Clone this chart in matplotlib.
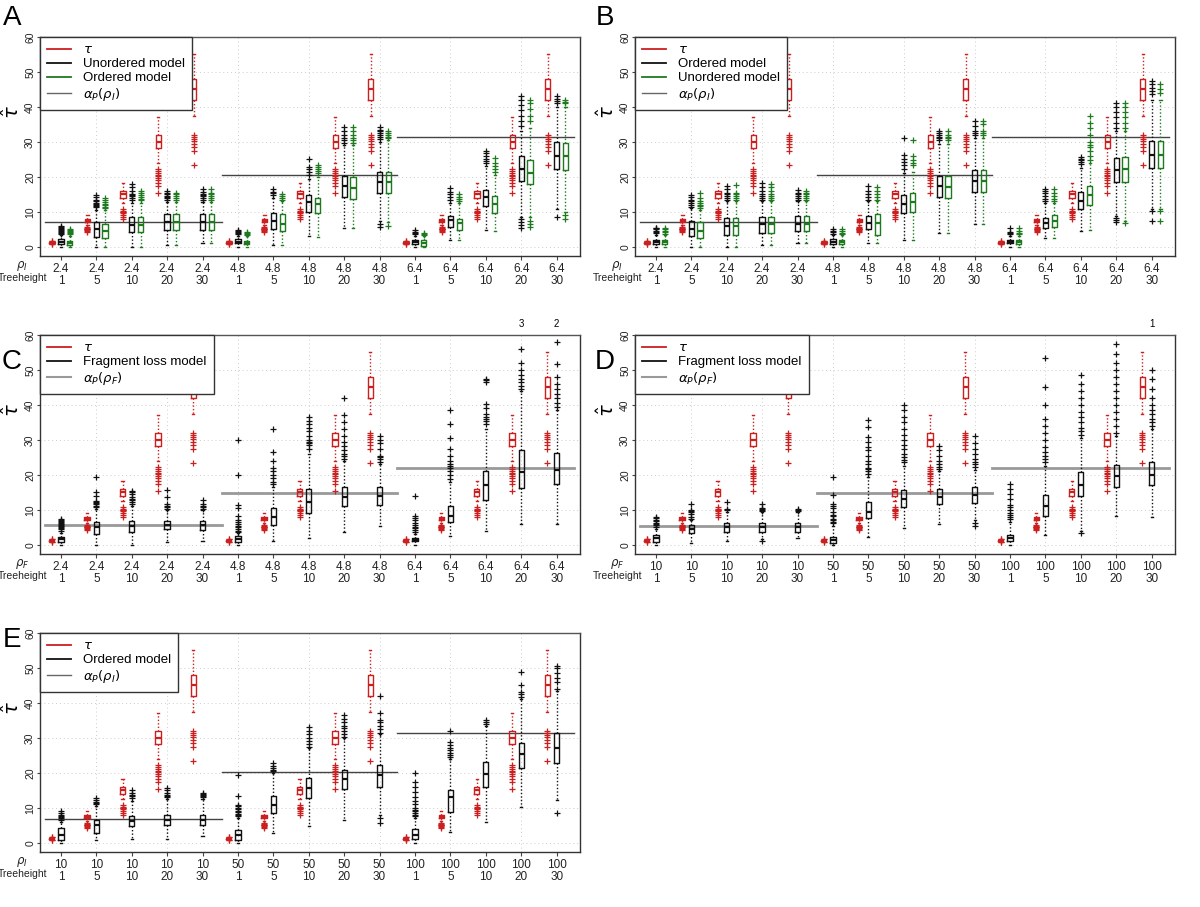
import matplotlib
matplotlib.use("Agg")
import matplotlib.pyplot as plt
from matplotlib.lines import Line2D

plt.rcParams['font.family'] = ['Liberation Sans', 'DejaVu Sans']

# ---------------- data ----------------
treeheights = [1, 5, 10, 20, 30]
rho_I_AB = ["2.4", "4.8", "6.4"]
rho_F_C = ["2.4", "4.8", "6.4"]
rho_F_D = ["10", "50", "100"]
rho_I_E = ["10", "50", "100"]

# tau (true) distribution per treeheight: (whislo, q1, med, q3, whishi)
tau_box = [(0.8, 1.0, 1.2, 1.4, 1.6), (6.3, 7.0, 7.5, 8.0, 9.2), (12.5, 14.0, 15.0, 16.0, 18.3),
           (24.0, 28.2, 30.0, 32.0, 37.0), (37.5, 42.0, 45.0, 48.0, 55.0)]
tau_out = [[0.7, 0.8, 1.6, 1.7],
           [4.3, 4.6, 4.8, 5.0, 5.1, 5.2, 5.4, 5.7],
           [8.0, 8.6, 9.2, 9.6, 9.9, 10.1, 10.4, 10.7],
           [15.5, 17.3, 18.3, 19.0, 19.6, 20.2, 20.6, 21.1, 21.6, 22.3],
           [23.5, 27.5, 28.5, 29.5, 30.2, 30.8, 31.4, 32.0]]

# Panel A: Unordered (black), Ordered (green)
A_unord_box = [(0, 0.8, 1.3, 2.2, 3.4), (0, 2.8, 5.0, 7.0, 10.5), (0, 4.3, 6.3, 8.6, 12.5),
               (0.5, 4.8, 7.0, 9.3, 12.8), (1.0, 4.8, 7.0, 9.3, 12.8),
               (0, 1.0, 1.5, 2.2, 3.2), (0.5, 5.0, 7.5, 9.8, 14.0), (3.0, 10.0, 12.7, 14.8, 19.5),
               (5.5, 14.2, 17.3, 20.4, 29.0), (7.5, 15.3, 18.5, 21.4, 30.0),
               (0, 0.7, 1.3, 2.1, 3.0), (2.1, 5.8, 7.6, 8.9, 12.5), (4.8, 11.6, 14.2, 16.4, 23.0),
               (8.5, 18.7, 22.4, 26.0, 33.0), (10.8, 22.4, 26.0, 30.0, 40.0)]
A_unord_out = [[3.8, 4.1, 4.4, 4.6, 4.8, 5.0, 5.3, 5.6, 6.0],
               [11.5, 11.8, 12.0, 12.3, 12.6, 13.0, 13.5, 14.2, 14.8],
               [13.5, 14.0, 14.5, 14.8, 15.2, 16.0, 17.0, 18.0],
               [13.5, 14.0, 14.3, 14.6, 15.0, 15.5, 16.0],
               [13.5, 14.0, 14.5, 14.8, 15.2, 15.8, 16.5],
               [3.6, 3.9, 4.2, 4.5, 4.8],
               [14.8, 15.3, 15.8, 16.5],
               [20.5, 21.5, 22.3, 22.8, 25.0],
               [29.8, 30.5, 31.0, 32.0, 33.0, 34.2],
               [5.8, 6.5, 30.8, 31.5, 32.0, 32.5, 33.0, 33.5, 34.2],
               [3.6, 4.0, 4.4, 4.8],
               [13.5, 14.2, 15.0, 15.8, 16.8],
               [24.0, 24.6, 25.2, 26.0, 26.8, 27.3],
               [5.5, 6.3, 7.2, 7.9, 34.5, 36.0, 37.5, 39.0, 40.5, 42.0, 43.0],
               [8.5, 41.0, 41.7, 42.3, 43.0]]
A_ord_box = [(0, 0.6, 1.1, 1.8, 3.2), (0, 2.6, 4.5, 6.5, 10.5), (0, 4.3, 6.3, 8.6, 12.5),
             (0.5, 4.8, 7.0, 9.3, 12.8), (1.0, 4.8, 7.0, 9.3, 12.8),
             (0, 0.7, 1.2, 1.8, 3.0), (0.5, 4.5, 6.5, 9.5, 13.0), (2.9, 9.6, 12.2, 13.9, 20.0),
             (5.5, 13.7, 16.9, 20.0, 29.0), (7.0, 15.3, 18.5, 21.4, 30.5),
             (0, 0.4, 1.0, 2.1, 3.0), (1.9, 4.8, 6.8, 7.9, 12.5), (4.5, 9.8, 12.2, 14.5, 20.5),
             (8.5, 18.0, 21.2, 24.8, 34.0), (10.0, 21.9, 26.0, 29.6, 40.0)]
A_ord_out = [[3.6, 3.9, 4.2, 4.5, 4.8, 5.2],
             [11.0, 11.5, 11.9, 12.3, 12.8, 13.5, 14.0],
             [13.3, 13.8, 14.3, 14.8, 15.3, 16.0],
             [13.5, 14.0, 14.5, 15.0, 15.5],
             [13.5, 14.0, 14.5, 15.0, 15.5, 16.5],
             [3.4, 3.7, 4.0, 4.3],
             [13.5, 14.0, 14.5, 15.0],
             [21.0, 21.6, 22.2, 22.8, 23.3],
             [29.6, 30.5, 31.2, 32.0, 33.0, 34.4],
             [6.0, 31.0, 31.5, 32.0, 32.6, 33.2],
             [3.3, 3.6, 4.0],
             [13.2, 13.8, 14.3, 15.1],
             [21.4, 22.2, 23.0, 24.0, 25.3],
             [5.8, 6.5, 7.3, 36.0, 37.5, 39.5, 41.0, 42.0],
             [8.0, 9.0, 41.0, 41.5, 42.0]]

# Panel B: Ordered (black), Unordered (green)
B_ord_box = [(0, 0.7, 1.4, 2.1, 3.5), (0, 3.0, 5.0, 7.5, 11.0), (0, 3.5, 6.0, 8.3, 13.0),
             (0.5, 4.0, 6.5, 8.5, 13.0), (1.0, 4.5, 6.5, 8.8, 13.0),
             (0, 0.8, 1.4, 2.2, 3.5), (1.0, 5.0, 6.9, 8.9, 13.0), (1.9, 9.6, 12.4, 14.8, 21.0),
             (4.0, 14.2, 17.3, 20.4, 29.5), (6.5, 15.6, 18.7, 21.9, 31.0),
             (0, 1.0, 1.5, 2.1, 3.0), (2.6, 5.5, 6.9, 8.4, 12.5), (4.5, 10.8, 13.2, 15.8, 22.5),
             (8.9, 18.5, 21.9, 25.5, 33.0), (10.8, 22.6, 26.2, 30.3, 42.0)]
B_ord_out = [[4.0, 4.3, 4.6, 5.0, 5.3, 5.5],
             [11.5, 12.0, 12.5, 13.0, 13.5, 14.2, 14.8],
             [13.5, 14.0, 14.5, 15.0, 15.5, 16.5, 17.5],
             [13.5, 14.0, 14.5, 15.0, 16.0, 17.0, 18.3],
             [13.5, 14.0, 14.5, 15.0, 15.5, 16.2],
             [3.8, 4.2, 4.6, 5.0],
             [13.5, 14.2, 15.0, 16.0, 17.5],
             [22.4, 23.3, 24.3, 25.2, 26.2, 31.0],
             [30.5, 31.0, 31.5, 32.0, 32.5, 33.0],
             [32.0, 32.5, 33.0, 34.5, 36.0],
             [3.6, 4.0, 4.4, 5.3],
             [13.2, 13.8, 14.5, 15.3, 16.0, 16.6],
             [23.8, 24.3, 24.8, 25.2, 25.7],
             [7.0, 7.8, 8.4, 34.0, 35.5, 37.0, 38.5, 40.0, 41.0],
             [7.4, 10.3, 43.6, 44.5, 45.5, 46.5, 47.4]]
B_unord_box = [(0, 0.7, 1.3, 2.0, 3.3), (0, 2.5, 4.5, 7.0, 10.5), (0, 3.5, 6.0, 8.3, 13.0),
               (0.5, 4.0, 6.5, 8.5, 13.0), (1.0, 4.5, 6.5, 8.8, 13.0),
               (0, 0.7, 1.3, 2.0, 3.3), (1.0, 3.5, 6.9, 9.4, 13.0), (1.9, 10.0, 12.7, 15.4, 21.5),
               (4.0, 14.0, 17.2, 20.4, 29.5), (6.5, 15.6, 18.7, 21.9, 31.0),
               (0, 0.9, 1.4, 2.0, 3.0), (2.5, 5.8, 7.4, 9.0, 12.5), (4.8, 12.0, 14.7, 17.5, 24.0),
               (7.5, 18.5, 22.2, 25.7, 33.0), (10.8, 22.6, 26.2, 30.3, 42.0)]
B_unord_out = [[3.8, 4.2, 4.6, 5.0, 5.4],
               [11.0, 11.6, 12.0, 12.5, 13.2, 14.0, 15.3],
               [13.5, 14.0, 14.5, 15.0, 15.5, 17.8],
               [13.5, 14.0, 14.5, 15.0, 16.0, 17.0, 18.0],
               [13.5, 14.0, 14.5, 15.0, 15.5, 16.0],
               [3.6, 4.0, 4.5, 5.2],
               [13.5, 14.3, 15.0, 16.0, 17.0],
               [23.3, 24.0, 24.8, 26.0, 30.6],
               [30.5, 31.0, 31.5, 32.0, 33.0],
               [32.0, 32.5, 33.0, 35.0, 36.0],
               [3.6, 4.0, 4.5, 5.3],
               [13.2, 13.8, 14.5, 15.3, 16.6],
               [24.8, 26.0, 27.5, 28.5, 29.0, 30.0, 32.0, 34.0, 35.5, 37.3],
               [6.8, 34.0, 35.5, 37.0, 38.5, 40.0, 41.0],
               [7.4, 10.3, 44.0, 45.0, 46.5]]

# Panel C: Fragment loss model (rho_F = 2.4, 4.8, 6.4)
C_frag_box = [(0, 0.8, 1.7, 2.2, 3.5), (0, 3.1, 5.0, 6.5, 10.2), (0, 3.6, 5.5, 6.9, 11.0),
              (0.8, 4.6, 5.7, 6.9, 10.0), (1.2, 4.4, 5.7, 6.9, 10.0),
              (0, 0.9, 1.7, 2.5, 3.3), (1.2, 5.7, 7.9, 10.5, 16.5), (1.9, 9.1, 12.4, 16.0, 26.0),
              (3.8, 11.0, 13.8, 16.5, 24.0), (5.5, 11.5, 14.1, 16.5, 23.0),
              (0, 1.0, 1.4, 1.9, 3.0), (2.5, 6.5, 8.4, 11.2, 18.0), (4.1, 12.7, 17.0, 21.2, 33.0),
              (6.0, 16.2, 20.8, 27.2, 44.0), (6.0, 17.4, 21.5, 26.2, 38.5)]
C_frag_out = [[4.0, 4.5, 4.8, 5.0, 5.3, 5.6, 5.9, 6.2, 6.5, 6.8, 7.2, 7.5],
              [10.7, 11.2, 11.6, 12.0, 12.3, 12.6, 14.0, 15.2, 19.4],
              [11.7, 12.3, 12.8, 13.2, 13.7, 14.5, 15.0, 15.5],
              [10.4, 10.8, 11.2, 11.6, 13.6, 15.7],
              [10.4, 10.8, 11.2, 11.8, 12.8],
              [3.6, 4.0, 4.5, 5.0, 5.5, 6.0, 6.5, 7.2, 8.4, 10.5, 11.5, 20.0, 30.0],
              [17.4, 18.0, 19.0, 20.0, 21.0, 22.0, 24.0, 26.5, 33.0],
              [27.5, 28.5, 29.0, 29.3, 30.0, 31.0, 32.5, 33.5, 34.5, 35.5, 36.5],
              [24.6, 25.3, 26.0, 27.0, 28.4, 29.5, 31.0, 33.0, 35.0, 37.0, 42.0],
              [23.6, 24.5, 25.0, 25.5, 27.5, 29.0, 30.0, 31.0],
              [3.6, 4.2, 4.8, 5.2, 5.6, 6.3, 7.0, 7.6, 8.4, 14.1],
              [18.9, 20.0, 21.0, 22.0, 22.5, 23.0, 24.0, 25.5, 27.5, 30.7, 34.6, 38.6],
              [34.6, 35.5, 36.0, 36.5, 37.5, 39.0, 40.3, 46.5, 47.0, 47.4],
              [44.6, 45.5, 46.5, 47.5, 48.5, 50.0, 52.0, 56.0],
              [39.3, 40.5, 42.0, 43.0, 44.5, 46.0, 48.0, 51.7, 57.9]]
C_offscale = {14: "3", 15: "2"}

# Panel D: Fragment loss model (rho_F = 10, 50, 100)
D_frag_box = [(0, 0.9, 1.9, 2.8, 4.5), (0.5, 3.3, 4.5, 5.7, 7.0), (1.0, 3.8, 5.2, 6.2, 9.5),
              (1.8, 3.8, 5.2, 6.2, 9.5), (1.9, 3.8, 5.2, 6.4, 9.5),
              (0, 0.5, 1.4, 2.4, 5.5), (2.4, 7.6, 9.5, 12.3, 19.5), (4.8, 10.8, 13.1, 15.7, 22.5),
              (6.0, 11.7, 13.6, 16.0, 21.0), (7.0, 12.0, 14.3, 16.5, 21.5),
              (0, 1.2, 2.0, 2.7, 6.5), (2.7, 8.2, 11.0, 14.3, 22.5), (4.1, 14.1, 17.1, 20.8, 30.5),
              (8.4, 16.5, 19.6, 22.7, 31.0), (7.9, 17.1, 20.0, 23.6, 33.0)]
D_frag_out = [[5.2, 5.6, 6.0, 6.4, 6.8, 7.2, 7.6, 8.0],
              [7.5, 8.0, 8.8, 9.4, 9.8, 10.0, 11.8],
              [10.0, 10.2, 12.3],
              [1.2, 9.8, 10.0, 10.3, 10.6, 11.8],
              [9.8, 10.0, 10.3],
              [6.2, 6.6, 7.0, 7.5, 8.2, 8.6, 9.5, 10.5, 11.2, 11.8, 14.2, 19.4],
              [20.4, 21.0, 21.6, 22.0, 23.0, 24.0, 25.5, 27.0, 28.0, 29.5, 30.8, 33.6, 35.7],
              [23.6, 24.3, 25.0, 26.0, 27.4, 28.5, 30.0, 31.5, 33.1, 35.0, 36.5, 38.5, 40.0],
              [21.7, 22.3, 23.0, 24.0, 25.5, 27.0, 28.4],
              [5.5, 6.2, 22.2, 23.0, 23.8, 24.5, 26.0, 27.5, 29.0, 31.2],
              [7.4, 8.0, 8.6, 9.2, 10.0, 10.8, 11.5, 13.0, 14.5, 16.0, 17.4],
              [23.6, 24.5, 25.5, 26.5, 28.0, 30.0, 32.0, 34.0, 36.0, 40.0, 45.0, 53.5],
              [3.5, 31.5, 32.5, 33.5, 35.0, 36.5, 38.0, 40.0, 42.0, 44.0, 46.0, 48.5],
              [32.0, 34.0, 36.0, 38.0, 40.0, 42.0, 44.0, 46.0, 48.0, 50.0, 52.0, 54.5, 57.5],
              [34.0, 35.0, 36.0, 37.5, 38.5, 40.0, 42.0, 44.5, 47.5, 50.0]]
D_offscale = {15: "1"}

# Panel E: Ordered model (rho_I = 10, 50, 100)
E_ord_box = [(0, 0.9, 2.4, 4.3, 6.0), (0.9, 2.8, 5.2, 6.6, 10.5), (1.1, 4.7, 6.2, 7.6, 12.0),
             (1.1, 5.2, 6.6, 8.1, 12.5), (1.9, 5.2, 6.6, 8.1, 12.5),
             (0, 0.9, 2.4, 3.6, 7.0), (2.8, 8.5, 10.9, 13.3, 20.0), (4.9, 12.8, 15.8, 18.5, 27.0),
             (6.6, 15.4, 18.4, 20.9, 30.0), (8.1, 16.1, 19.4, 22.3, 31.0),
             (0, 1.1, 2.4, 4.0, 7.0), (3.0, 8.7, 13.0, 15.2, 24.0), (5.9, 16.1, 19.7, 23.2, 33.5),
             (10.4, 21.3, 25.3, 28.6, 41.0), (12.3, 22.9, 27.1, 31.3, 43.5)]
E_ord_out = [[6.6, 7.0, 7.3, 7.6, 8.0, 8.5, 9.0],
             [11.0, 11.4, 11.8, 12.2, 12.8],
             [12.8, 13.3, 13.8, 14.4, 15.2],
             [13.0, 13.3, 13.8, 14.4, 15.0, 15.6],
             [13.0, 13.3, 13.6, 14.0, 14.4],
             [7.6, 8.0, 8.4, 8.8, 9.2, 9.6, 10.0, 10.5, 10.9, 13.3, 19.4],
             [20.5, 20.9, 21.5, 22.0, 22.7],
             [27.5, 28.2, 29.0, 30.0, 31.0, 32.0, 33.2],
             [30.3, 31.0, 32.0, 32.8, 33.5, 34.5, 35.5, 36.5],
             [5.7, 7.0, 31.3, 32.5, 33.5, 34.5, 35.0, 37.0, 41.9],
             [7.6, 8.0, 8.5, 9.0, 9.5, 10.0, 11.0, 12.0, 13.0, 14.5, 16.0, 17.5, 19.9],
             [24.6, 25.2, 25.8, 26.5, 27.2, 28.0, 28.9, 31.9],
             [34.1, 34.6, 35.1],
             [41.7, 42.5, 43.0, 45.0, 48.8],
             [8.5, 44.1, 46.0, 47.0, 48.5, 50.0, 50.7]]

# alpha_P reference levels per rho group
A_alpha = [7.0, 20.5, 31.5]
B_alpha = [7.0, 20.5, 31.5]
C_alpha = [5.7, 14.9, 22.0]
D_alpha = [5.5, 14.9, 22.1]
E_alpha = [6.8, 20.4, 31.5]

RED = "#cc1f1f"
GREEN = "#1e7a1e"
BLACK = "#111111"


def stats_list(boxes, outs):
    res = []
    for (lo, q1, med, q3, hi), fl in zip(boxes, outs):
        res.append(dict(whislo=lo, q1=q1, med=med, q3=q3, whishi=hi, fliers=fl))
    return res


def draw_boxes(ax, boxes, outs, offset, color, width=0.15):
    stats = stats_list(boxes, outs)
    pos = [i + 1 + offset for i in range(len(stats))]
    ax.bxp(stats, positions=pos, widths=width, manage_ticks=False, showfliers=True,
           boxprops=dict(color=color, linewidth=1.0),
           medianprops=dict(color=color, linewidth=1.6),
           whiskerprops=dict(color=color, linewidth=1.0, linestyle=(0, (1, 1.5))),
           capprops=dict(color=color, linewidth=1.0),
           flierprops=dict(marker='+', markeredgecolor=color, markersize=4.5,
                           markeredgewidth=0.9, linestyle='none'),
           capwidths=0.06)


def draw_tau(ax, offset):
    boxes = tau_box * 3
    outs = tau_out * 3
    draw_boxes(ax, boxes, outs, offset, RED)


W, H = 1200, 907


def make_axes(fig, left, top, right, bottom):
    return fig.add_axes([left / W, 1 - bottom / H, (right - left) / W, (bottom - top) / H])


def style_axes(ax, rhos, rho_label, alpha, alpha_color, alpha_lw, left_px, bottom_px):
    ax.set_xlim(0.41, 15.66)
    ax.set_ylim(-2.6, 60)
    ax.set_yticks([0, 10, 20, 30, 40, 50, 60])
    ax.set_yticklabels(["0", "10", "20", "30", "40", "50", "60"], rotation=90, va='center',
                       fontsize=7.5, color='#222')
    ax.set_xticks(range(1, 16))
    labels = [f"{r}\n{h}" for r in rhos for h in treeheights]
    ax.set_xticklabels(labels, fontsize=8.5, linespacing=1.05, color='#222')
    ax.tick_params(axis='x', length=3, width=0.8, color='#444', pad=2)
    ax.tick_params(axis='y', length=2.5, width=0.8, color='#444', pad=1)
    for y in [0, 10, 20, 30, 40, 50]:
        ax.axhline(y, color='#cccccc', lw=0.7, ls=(0, (1, 3)), zorder=0)
    for x in [2, 4, 6, 8, 10, 12, 14]:
        ax.axvline(x, color='#cccccc', lw=0.7, ls=(0, (1, 3)), zorder=0)
    for s in ['left', 'bottom', 'right']:
        ax.spines[s].set_color('#333333')
        ax.spines[s].set_linewidth(1.0)
    ax.spines['top'].set_linestyle((0, (3, 1)))
    ax.spines['top'].set_color('#555555')
    ax.spines['top'].set_linewidth(1.0)
    spans = [(0.55, 5.55), (5.55, 10.5), (10.5, 15.5)]
    for (x0, x1), a in zip(spans, alpha):
        ax.plot([x0, x1], [a, a], color=alpha_color, lw=alpha_lw, zorder=1)
    fig = ax.figure
    ax_top = bottom_px - 219
    fig.text((left_px - 28) / W, 1 - (ax_top + 75) / H, r"$\hat{\tau}$", rotation=90,
             fontsize=14, ha='center', va='center')
    fig.text((left_px - 18) / W, 1 - (bottom_px + 10) / H, rho_label, fontsize=8.5,
             ha='center', va='center', color='#222')
    fig.text((left_px - 17) / W, 1 - (bottom_px + 22) / H, "Treeheight", fontsize=7.5,
             ha='center', va='center', color='#222')


def add_legend(ax, entries):
    handles = [Line2D([], [], color=c, lw=lw) for c, lw, _ in entries]
    labels = [t for _, _, t in entries]
    leg = ax.legend(handles, labels, loc='upper left', bbox_to_anchor=(0, 1),
                    borderaxespad=0, fancybox=False, framealpha=1, edgecolor='#333333',
                    fontsize=9.5, handlelength=1.8, handletextpad=0.9, labelspacing=0.12,
                    borderpad=0.55)
    leg.get_frame().set_linewidth(1.0)
    leg.set_zorder(10)


fig = plt.figure(figsize=(12, 9.07), dpi=100)

# Panel A
axA = make_axes(fig, 40, 37, 580, 256)
style_axes(axA, rho_I_AB, r"$\rho_I$", A_alpha, '#444444', 1.0, 40, 256)
draw_tau(axA, -0.25)
draw_boxes(axA, A_unord_box, A_unord_out, 0.0, BLACK)
draw_boxes(axA, A_ord_box, A_ord_out, 0.25, GREEN)
add_legend(axA, [(RED, 1.3, r"$\tau$"), (BLACK, 1.3, "Unordered model"),
                 (GREEN, 1.3, "Ordered model"), ('#666666', 1.0, r"$\alpha_P(\rho_I)$")])

# Panel B
axB = make_axes(fig, 635, 37, 1175, 256)
style_axes(axB, rho_I_AB, r"$\rho_I$", B_alpha, '#444444', 1.0, 635, 256)
draw_tau(axB, -0.25)
draw_boxes(axB, B_ord_box, B_ord_out, 0.0, BLACK)
draw_boxes(axB, B_unord_box, B_unord_out, 0.25, GREEN)
add_legend(axB, [(RED, 1.3, r"$\tau$"), (BLACK, 1.3, "Ordered model"),
                 (GREEN, 1.3, "Unordered model"), ('#666666', 1.0, r"$\alpha_P(\rho_I)$")])

# Panel C
axC = make_axes(fig, 40, 335, 580, 554)
style_axes(axC, rho_F_C, r"$\rho_F$", C_alpha, '#999999', 2.0, 40, 554)
draw_tau(axC, -0.26)
draw_boxes(axC, C_frag_box, C_frag_out, 0.0, BLACK)
add_legend(axC, [(RED, 1.3, r"$\tau$"), (BLACK, 1.3, "Fragment loss model"),
                 ('#999999', 1.5, r"$\alpha_P(\rho_F)$")])
for g, t in C_offscale.items():
    axC.text(g, 61.8, t, fontsize=7, ha='center', va='bottom', clip_on=False)

# Panel D
axD = make_axes(fig, 635, 335, 1175, 554)
style_axes(axD, rho_F_D, r"$\rho_F$", D_alpha, '#999999', 2.0, 635, 554)
draw_tau(axD, -0.26)
draw_boxes(axD, D_frag_box, D_frag_out, 0.0, BLACK)
add_legend(axD, [(RED, 1.3, r"$\tau$"), (BLACK, 1.3, "Fragment loss model"),
                 ('#999999', 1.5, r"$\alpha_P(\rho_F)$")])
for g, t in D_offscale.items():
    axD.text(g, 61.8, t, fontsize=7, ha='center', va='bottom', clip_on=False)

# Panel E
axE = make_axes(fig, 40, 633, 580, 852)
style_axes(axE, rho_I_E, r"$\rho_I$", E_alpha, '#444444', 1.0, 40, 852)
draw_tau(axE, -0.26)
draw_boxes(axE, E_ord_box, E_ord_out, 0.0, BLACK)
add_legend(axE, [(RED, 1.3, r"$\tau$"), (BLACK, 1.3, "Ordered model"),
                 ('#666666', 1.0, r"$\alpha_P(\rho_I)$")])

# panel letters
for letter, x, y in [("A", 12, 18), ("B", 605, 18), ("C", 12, 362), ("D", 605, 362), ("E", 12, 640)]:
    fig.text(x / W, 1 - y / H, letter, fontsize=20, ha='center', va='center')

fig.savefig("out.png", dpi=100)
